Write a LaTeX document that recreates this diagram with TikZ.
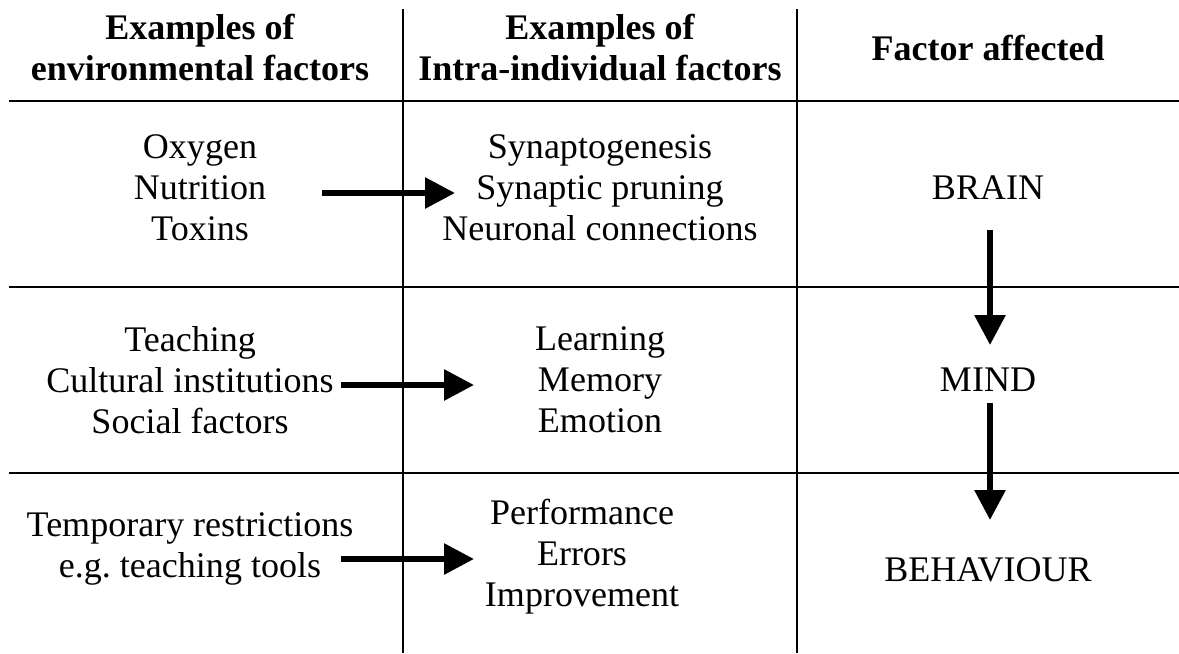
\documentclass[tikz,border=0pt]{standalone}
\usepackage{fontspec}
\setmainfont{Liberation Serif}
\usetikzlibrary{arrows.meta}
\tikzset{
  cell/.style = {align=center, inner sep=0pt, font=\fontsize{20.5}{23.3}\selectfont},
  headcell/.style = {cell, font=\fontsize{20.5}{23.3}\selectfont\bfseries},
  rule/.style = {line width=1.4pt},
  flow/.style = {line width=3.4pt, -{Triangle[length=0.6cm,width=0.6cm]}}
}

\begin{document}
\begin{tikzpicture}[x=0.02cm,y=-0.02cm]
  \useasboundingbox (0,0) rectangle (1179,653);
  % grid
  \draw[rule] (9,101) -- (1179,101);
  \draw[rule] (9,287) -- (1179,287);
  \draw[rule] (9,473) -- (1179,473);
  \draw[line width=1.1pt] (403,9) -- (403,653);
  \draw[line width=1.1pt] (797,9) -- (797,653);
  % headers
  \node[headcell] (henv)    at (200,47.5) {Examples of\\environmental factors};
  \node[headcell] (hintra)  at (600,47.5) {Examples of\\Intra-individual factors};
  \node[headcell] (hfactor) at (988,47.5) {Factor affected};
  % environmental factors
  \node[cell] (envA) at (200,188) {Oxygen\\Nutrition\\Toxins};
  \node[cell] (envB) at (190,380) {Teaching\\Cultural institutions\\Social factors};
  \node[cell] (envC) at (190,549) {Temporary restrictions\\e.g.\ teaching tools};
  % intra-individual factors
  \node[cell] (intA) at (600,188) {Synaptogenesis\\Synaptic pruning\\Neuronal connections};
  \node[cell] (intB) at (600,380) {Learning\\Memory\\Emotion};
  \node[cell] (intC) at (582,557) {Performance\\Errors\\Improvement};
  % factor affected
  \node[cell] (brain) at (988,188) {BRAIN};
  \node[cell] (mind)  at (988,380) {MIND};
  \node[cell] (behav) at (988,570) {BEHAVIOUR};
  % arrow ends
  \coordinate (envA-out) at (322,193);
  \coordinate (intA-in)  at (455,193);
  \coordinate (envB-out) at (341,385);
  \coordinate (intB-in)  at (474,385);
  \coordinate (envC-out) at (341,559);
  \coordinate (intC-in)  at (474,559);
  \coordinate (brain-out) at (990,230);
  \coordinate (mind-in)   at (990,345);
  \coordinate (mind-out)  at (990,403);
  \coordinate (behav-in)  at (990,520);
  % arrows
  \draw[flow] (envA-out) -- (intA-in);
  \draw[flow] (envB-out) -- (intB-in);
  \draw[flow] (envC-out) -- (intC-in);
  \draw[flow] (brain-out) -- (mind-in);
  \draw[flow] (mind-out) -- (behav-in);
\end{tikzpicture}
\end{document}
